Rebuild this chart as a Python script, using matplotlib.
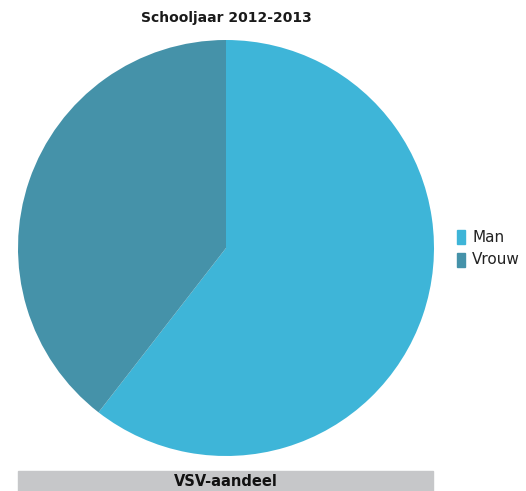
import matplotlib.pyplot as plt
from matplotlib.patches import Rectangle

labels = ['Man', 'Vrouw']
values = [60.5, 39.5]
colors = ['#3eb5d8', '#4592a9']

W, H = 526, 491
fig = plt.figure(figsize=(W / 100, H / 100), dpi=100)

# pie axes placed in pixel coordinates
ax = fig.add_axes([18 / W, (H - 456) / H, 416 / W, 416 / H])
ax.pie(values, colors=colors, startangle=90, counterclock=False,
       wedgeprops=dict(linewidth=0))
ax.set_xlim(-1, 1)
ax.set_ylim(-1, 1)
ax.set_aspect('equal')
ax.axis('off')

fig.text(226 / W, 1 - 18 / H, 'Schooljaar 2012-2013', ha='center', va='center',
         fontsize=10, fontweight='bold', color='#1a1a1a')

# legend
for i, (lab, col) in enumerate(zip(labels, colors)):
    y = 237 + i * 23
    fig.patches.append(Rectangle((457 / W, 1 - (y + 7) / H), 8 / W, 14 / H,
                                 transform=fig.transFigure, color=col))
    fig.text(472 / W, 1 - y / H, lab, ha='left', va='center',
             fontsize=11, color='#222222')

# bottom caption bar
fig.patches.append(Rectangle((18 / W, 0), (433 - 18) / W, 20 / H,
                             transform=fig.transFigure, color='#c6c7c9'))
fig.text(226 / W, 10 / H, 'VSV-aandeel', ha='center', va='center',
         fontsize=10.5, fontweight='bold', color='#111111')

fig.savefig('out.png', dpi=100)
